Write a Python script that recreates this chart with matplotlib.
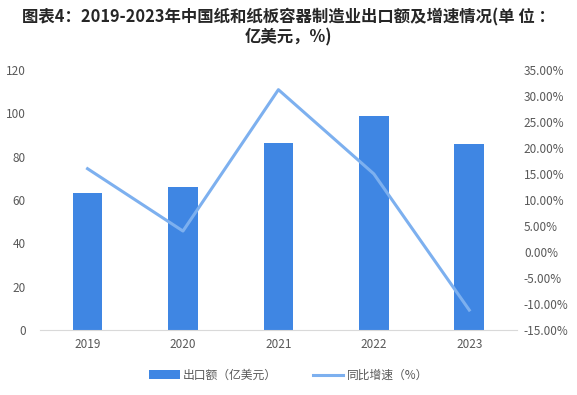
import numpy as np
import matplotlib
matplotlib.use('Agg')
import matplotlib.pyplot as plt
from matplotlib.ticker import FuncFormatter

plt.rcParams['font.family'] = ['Noto Sans CJK SC', 'DejaVu Sans']

years = ['2019', '2020', '2021', '2022', '2023']
export_value = [63.2, 66.0, 86.3, 98.8, 85.8]
growth_rate = [16.0, 4.0, 31.2, 15.0, -11.2]

ind = np.arange(len(years))
bar_color = '#3f86e3'
line_color = '#7db0ef'
tick_color = '#595959'

fig = plt.figure(figsize=(5.77, 3.95), dpi=100)
ax = fig.add_axes([0.069, 0.165, 0.827, 0.658])
ax2 = ax.twinx()

bars = ax.bar(ind, export_value, 0.31, color=bar_color, zorder=2)
line, = ax2.plot(ind, growth_rate, color=line_color, lw=2.2, zorder=3)

ax.set_xlim(-0.5, len(years) - 0.5)
ax.set_ylim(0, 120)
ax.set_yticks(range(0, 121, 20))
ax2.set_ylim(-15, 35)
ax2.set_yticks(range(-15, 36, 5))
ax2.yaxis.set_major_formatter(FuncFormatter(lambda v, p: '%.2f%%' % v))
ax.set_xticks(ind)
ax.set_xticklabels(years)

for a in (ax, ax2):
    for s in a.spines.values():
        s.set_visible(False)
    a.tick_params(length=0, labelsize=8.5, colors=tick_color)
ax.spines['bottom'].set_visible(True)
ax.spines['bottom'].set_color('#d9d9d9')
ax.tick_params(axis='x', pad=6)
ax.tick_params(axis='y', pad=10)
ax2.tick_params(axis='y', pad=5)

fig.text(0.5, 0.955, '图表4：2019-2023年中国纸和纸板容器制造业出口额及增速情况(单 位 ：',
         ha='center', va='center', fontsize=11.8, fontweight='bold', color='#262626')
fig.text(0.5, 0.905, '亿美元，%)', ha='center', va='center',
         fontsize=11.8, fontweight='bold', color='#262626')

fig.legend((bars, line), ('出口额（亿美元）', '同比增速（%）'),
           loc='center', bbox_to_anchor=(0.5, 0.05), ncol=2, frameon=False,
           fontsize=8.5, labelcolor=tick_color, handlelength=2.6, columnspacing=3.0,
           handletextpad=0.3)

fig.savefig('out.png', dpi=100)
